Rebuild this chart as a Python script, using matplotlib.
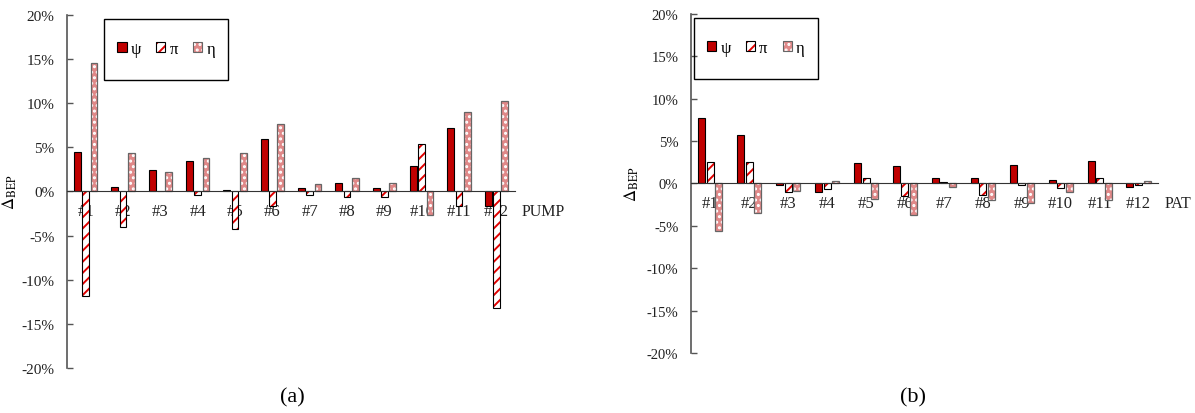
import numpy as np
import matplotlib
matplotlib.use('Agg')
import matplotlib.pyplot as plt
from matplotlib.patches import Patch, Rectangle
from matplotlib.legend_handler import HandlerTuple
from matplotlib.ticker import FuncFormatter
import matplotlib.transforms as mtransforms

plt.rcParams['font.family'] = ['Liberation Serif', 'DejaVu Serif']
plt.rcParams['mathtext.fontset'] = 'stix'
plt.rcParams['hatch.linewidth'] = 1.4

# 数据 (%)
labels = ['#1', '#2', '#3', '#4', '#5', '#6', '#7', '#8', '#9', '#10', '#11', '#12']

pump_psi = [4.5, 0.5, 2.4, 3.4, 0.2, 6.0, 0.4, 1.0, 0.35, 2.9, 7.2, -1.7]
pump_pi = [-11.8, -4.0, 0.1, -0.4, -4.3, -1.7, -0.4, -0.6, -0.6, 5.4, -1.6, -13.2]
pump_eta = [14.6, 4.35, 2.2, 3.8, 4.35, 7.6, 0.85, 1.5, 0.95, -2.7, 9.0, 10.2]

pat_psi = [7.75, 5.75, -0.15, -1.05, 2.45, 2.05, 0.65, 0.6, 2.2, 0.45, 2.6, -0.4]
pat_pi = [2.55, 2.55, -0.95, -0.65, 0.7, -1.5, 0.2, -1.3, -0.15, -0.55, 0.65, -0.12]
pat_eta = [-5.6, -3.45, -0.85, 0.3, -1.8, -3.7, -0.45, -2.0, -2.35, -1.0, -1.95, 0.25]

RED = '#C00000'
PINK = '#E08888'
w = 0.18
gap = 0.22


def draw_bars(ax, x, vals, kind):
    if kind == 'psi':
        ax.bar(x, vals, w, color=RED, edgecolor='black', linewidth=0.8, zorder=2)
    elif kind == 'pi':
        ax.bar(x, vals, w, facecolor='white', edgecolor='#E00000', hatch='///',
               linewidth=0, zorder=2)
        ax.bar(x, vals, w, fill=False, edgecolor='black', linewidth=0.8, zorder=2)
    else:
        ax.bar(x, vals, w, facecolor=PINK, edgecolor='white', hatch='...',
               linewidth=0, zorder=2)
        ax.bar(x, vals, w, fill=False, edgecolor='#666666', linewidth=0.9, zorder=2)


def panel(ax, psi, pi, eta, xname, legend_box, ysize):
    x = np.arange(len(labels))
    draw_bars(ax, x - gap, psi, 'psi')
    draw_bars(ax, x, pi, 'pi')
    draw_bars(ax, x + gap, eta, 'eta')

    ax.set_xlim(-0.5, len(labels) - 0.5)
    ax.set_ylim(-20, 20)
    ax.set_yticks(np.arange(-20, 21, 5))
    ax.yaxis.set_major_formatter(FuncFormatter(lambda v, p: f'{v:.0f}%'))
    ax.tick_params(axis='y', direction='in', length=4, width=1, colors='#555555',
                   labelcolor='#222222', labelsize=ysize, pad=9)

    # 横轴放在 0 处
    ax.spines['bottom'].set_position(('data', 0))
    ax.spines['bottom'].set_color('#333333')
    ax.spines['left'].set_color('#555555')
    ax.spines['left'].set_linewidth(1.2)
    ax.spines['top'].set_visible(False)
    ax.spines['right'].set_visible(False)
    ax.set_xticks(x)
    ax.set_xticklabels(labels)
    ax.tick_params(axis='x', length=0, labelsize=12, pad=8, labelcolor='#222222')
    ax.set_axisbelow(True)

    tr = (mtransforms.blended_transform_factory(ax.transAxes, ax.transData)
          + mtransforms.ScaledTranslation(0, -8 / 72, ax.figure.dpi_scale_trans))
    ax.text(1.015, 0, xname, transform=tr, fontsize=11.5, ha='left', va='top',
            color='#222222')

    ax.set_ylabel(r'$\Delta_{\mathrm{BEP}}$', fontsize=12)
    ax.yaxis.set_label_coords(-0.108, 0.5)

    # 图例
    bx, by, bw, bh = legend_box
    ax.add_patch(Rectangle((bx, by), bw, bh, transform=ax.transAxes, fill=False,
                           edgecolor='black', linewidth=1.0, zorder=4))
    h_psi = Patch(facecolor=RED, edgecolor='black', linewidth=0.8)
    h_pi = (Patch(facecolor='white', edgecolor='#E00000', hatch='///', linewidth=0),
            Patch(fill=False, edgecolor='black', linewidth=0.8))
    h_eta = (Patch(facecolor=PINK, edgecolor='white', hatch='...', linewidth=0),
             Patch(fill=False, edgecolor='#666666', linewidth=0.8))
    ax.legend([h_psi, h_pi, h_eta], ['ψ', 'π', 'η'], ncol=3, frameon=False,
              handler_map={tuple: HandlerTuple(ndivide=1)},
              loc='center', bbox_to_anchor=(bx + bw / 2, by + bh / 2),
              handlelength=0.55, handleheight=0.55, handletextpad=0.25,
              columnspacing=0.9, fontsize=12)


fig = plt.figure(figsize=(11.95, 4.14), dpi=100)
ax1 = fig.add_axes([0.0561, 0.1087, 0.3749, 0.8527])
ax2 = fig.add_axes([0.5782, 0.1449, 0.3908, 0.8189])

panel(ax1, pump_psi, pump_pi, pump_eta, 'PUMP', (0.083, 0.817, 0.277, 0.173), 11)
panel(ax2, pat_psi, pat_pi, pat_eta, 'PAT', (0.006, 0.809, 0.266, 0.18), 10.5)

fig.text(0.2445, 0.038, '(a)', fontsize=16, ha='center', va='center')
fig.text(0.764, 0.038, '(b)', fontsize=16, ha='center', va='center')

fig.savefig('out.png', dpi=100)
